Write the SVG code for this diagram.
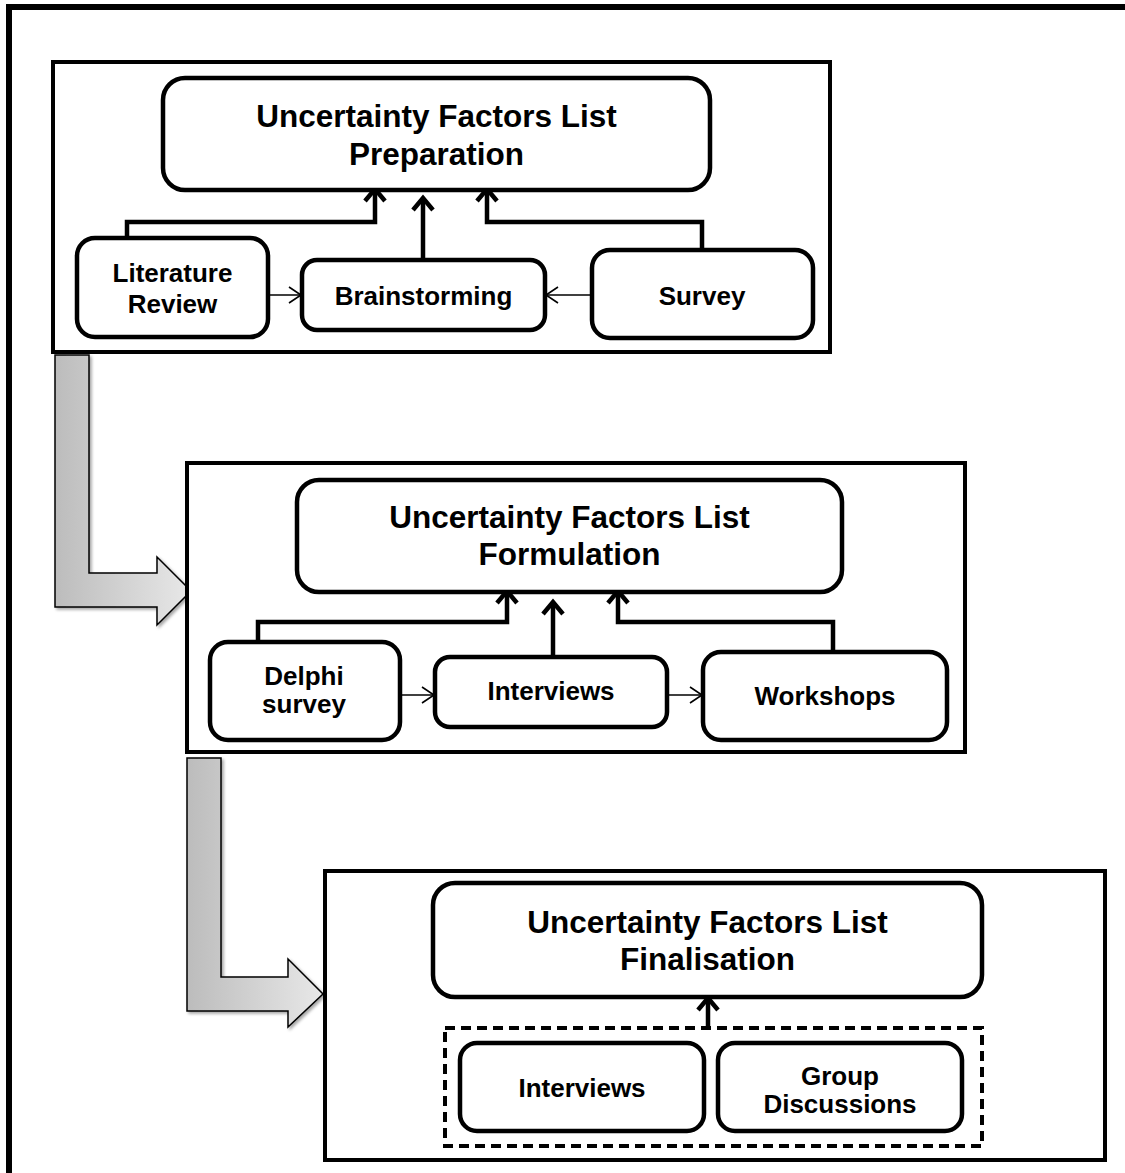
<svg xmlns="http://www.w3.org/2000/svg" width="1125" height="1173" viewBox="0 0 1125 1173">
<defs>
<style>
.frame{fill:none;stroke:#000;stroke-width:6}
.panel{fill:#fff;stroke:#000;stroke-width:4}
.box{fill:#fff;stroke:#000;stroke-width:4.5}
.dash{fill:none;stroke:#000;stroke-width:4;stroke-dasharray:10 6}
.t{font-family:"Liberation Sans",Arial,sans-serif;font-weight:bold;fill:#000;text-anchor:middle}
.big{font-size:31.5px}
.sm{font-size:26px}
.thick{fill:none;stroke:#000;stroke-width:4.5;stroke-linejoin:miter}
.thin{fill:none;stroke:#000;stroke-width:1.6}
.flow{stroke:#000;stroke-width:1.5;stroke-linejoin:miter;filter:url(#sh)}
</style>
<marker id="hk" markerUnits="userSpaceOnUse" viewBox="-16 -14 20 28" refX="0" refY="0" markerWidth="20" markerHeight="28" orient="auto" overflow="visible">
<path d="M-12,-10 L0,0 L-12,10" fill="none" stroke="#000" stroke-width="4.5"/>
</marker>
<marker id="hn" markerUnits="userSpaceOnUse" viewBox="-14 -10 16 20" refX="0" refY="0" markerWidth="16" markerHeight="20" orient="auto" overflow="visible">
<path d="M-12,-8 L0,0 L-12,8" fill="none" stroke="#000" stroke-width="1.6"/>
</marker>
<linearGradient id="g1" gradientUnits="objectBoundingBox" x1="0" y1="0" x2="1" y2="0">
<stop offset="0" stop-color="#bcbcbc"/>
<stop offset="1" stop-color="#e8e8e8"/>
</linearGradient>
<filter id="sh" x="-20%" y="-20%" width="140%" height="140%">
<feDropShadow dx="2" dy="2" stdDeviation="1.5" flood-color="#000" flood-opacity="0.35"/>
</filter>
</defs>
<rect width="1125" height="1173" fill="#fff"/>
<rect class="frame" x="9" y="7" width="1130" height="1180"/>

<g id="flow-arrows">
<path class="flow" fill="url(#g1)" d="M55,355 L89,355 L89,573 L157,573 L157,557 L191,591 L157,625 L157,607 L55,607 Z"/>
<path class="flow" fill="url(#g1)" d="M187,758 L221,758 L221,977 L288,977 L288,959 L323,994 L288,1027 L288,1011 L187,1011 Z"/>
</g>

<g id="panel-preparation"><rect class="panel" x="53" y="62" width="777" height="290"/></g>
<g id="panel-formulation"><rect class="panel" x="187" y="463" width="778" height="289"/></g>
<g id="panel-finalisation"><rect class="panel" x="325" y="871" width="780" height="289"/></g>

<g id="connectors">
<path class="thick" d="M127,238 L127,222 L375,222 L375,189" marker-end="url(#hk)"/>
<path class="thick" d="M423,260 L423,198" marker-end="url(#hk)"/>
<path class="thick" d="M702,250 L702,222 L487,222 L487,189" marker-end="url(#hk)"/>
<path class="thin" d="M268,295 L301,295" marker-end="url(#hn)"/>
<path class="thin" d="M592,295 L546,295" marker-end="url(#hn)"/>
<path class="thick" d="M258,642 L258,622 L507,622 L507,591" marker-end="url(#hk)"/>
<path class="thick" d="M553,657 L553,602" marker-end="url(#hk)"/>
<path class="thick" d="M833,652 L833,622 L618,622 L618,591" marker-end="url(#hk)"/>
<path class="thin" d="M400,695 L434,695" marker-end="url(#hn)"/>
<path class="thin" d="M667,695 L702,695" marker-end="url(#hn)"/>
<path class="thick" d="M708,1028 L708,998" marker-end="url(#hk)"/>
</g>

<g id="prep-title"><rect class="box" x="163" y="78" width="547" height="112" rx="22"/>
<text class="t big" x="436.5" y="127">Uncertainty Factors List</text>
<text class="t big" x="436.5" y="165">Preparation</text></g>
<g id="lit-review"><rect class="box" x="77" y="238" width="191" height="99" rx="18"/>
<text class="t sm" x="172.5" y="282">Literature</text>
<text class="t sm" x="172.5" y="313">Review</text></g>
<g id="brainstorming"><rect class="box" x="302" y="260" width="243" height="70" rx="15"/>
<text class="t sm" x="423.5" y="305">Brainstorming</text></g>
<g id="survey"><rect class="box" x="592" y="250" width="221" height="88" rx="18"/>
<text class="t sm" x="702" y="305">Survey</text></g>

<g id="form-title"><rect class="box" x="297" y="480" width="545" height="112" rx="22"/>
<text class="t big" x="569.5" y="528">Uncertainty Factors List</text>
<text class="t big" x="569.5" y="565">Formulation</text></g>
<g id="delphi"><rect class="box" x="210" y="642" width="190" height="98" rx="18"/>
<text class="t sm" x="304" y="685">Delphi</text>
<text class="t sm" x="304" y="713">survey</text></g>
<g id="interviews-2"><rect class="box" x="435" y="657" width="232" height="70" rx="15"/>
<text class="t sm" x="551" y="700">Interviews</text></g>
<g id="workshops"><rect class="box" x="703" y="652" width="244" height="88" rx="18"/>
<text class="t sm" x="825" y="705">Workshops</text></g>

<g id="final-title"><rect class="box" x="433" y="883" width="549" height="114" rx="22"/>
<text class="t big" x="707.5" y="933">Uncertainty Factors List</text>
<text class="t big" x="707.5" y="970">Finalisation</text></g>
<g id="final-group"><rect class="dash" x="445" y="1028" width="537" height="118"/></g>
<g id="interviews-3"><rect class="box" x="460" y="1043" width="244" height="88" rx="17"/>
<text class="t sm" x="582" y="1097">Interviews</text></g>
<g id="group-discussions"><rect class="box" x="718" y="1043" width="244" height="88" rx="17"/>
<text class="t sm" x="840" y="1085">Group</text>
<text class="t sm" x="840" y="1113">Discussions</text></g>
</svg>
